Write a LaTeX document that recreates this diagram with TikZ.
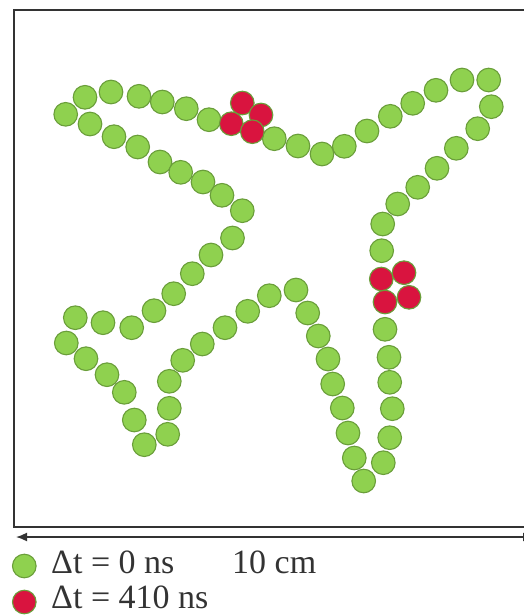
\documentclass[tikz,border=0pt]{standalone}
\usepackage{fontspec}
\setmainfont{Liberation Serif}
\usetikzlibrary{arrows.meta}
\definecolor{dotgreen}{HTML}{8FD14F}
\definecolor{dotedge}{HTML}{6A9E3A}
\definecolor{dotred}{HTML}{D9143F}
\definecolor{ink}{HTML}{333333}
\begin{document}
\begin{tikzpicture}[x=1pt,y=-1pt,
  gdot/.style={circle, draw=dotedge, fill=dotgreen, line width=1.1pt, minimum size=23.6pt, inner sep=0pt},
  rdot/.style={gdot, fill=dotred},
  lbl/.style={anchor=base west, inner sep=0pt, text=ink, font=\fontsize{34}{39}\selectfont},
  frame/.style={draw=ink, line width=2pt}]
\useasboundingbox (0,0) rectangle (524,616);
\begin{scope}
\clip (0,0) rectangle (524,616);
\draw[frame] (14,10) rectangle (540,527);
\coordinate (arrL) at (16,537);
\coordinate (arrR) at (534,537);
\draw[ink, line width=1.6pt, {Latex[length=11pt,width=9pt]}-{Latex[length=11pt,width=9pt]}] (arrL) -- (arrR);
% green dots
\foreach \x/\y [count=\i] in {
 65.7/114.3, 85/97.3, 111/92, 139/96.3, 162.3/102, 186.3/108.7, 209/119.7,
 274.3/138.7, 298/146, 322/154, 344.3/146.3, 367/131, 390.3/116.3, 412.7/103.3, 436/90.3, 462/80, 488.7/80,
 491.3/106.7, 477.7/128.7, 456.3/148.3, 437/168.3, 417.7/187.3, 397.7/204, 382.7/224, 381.7/250.7,
 385/329.3, 389/357.3, 389.7/382.3, 392.3/408.7, 389.7/437.7, 383.3/462.7, 363.7/481,
 269.3/295.7, 296/290, 307.7/313, 318.3/336, 328/359, 332.7/384, 342.3/408, 348/433, 354.3/458,
 90/124, 114/136.7, 137.7/147, 160/162, 180.7/172.3, 203/182, 222/195.3, 242.3/210.7, 232.5/238,
 211/255, 192.3/273.7, 173.7/293.7, 154/310.7, 131.7/327.7, 103/322.7, 75.3/317.7,
 66.3/343, 86/358.7, 107/374.7, 124.3/392.3, 134.3/420, 144.3/444.7,
 167.7/434.3, 169.3/408.3, 169.3/381.3, 182.7/360.3, 202.3/344, 225/327.7, 247.7/311.3}
 \node[gdot] (g\i) at (\x,\y) {};
% red dots
\foreach \x/\y [count=\i] in {
 231.3/123.7, 242.3/103, 261/115, 252.3/131.7,
 381.3/279, 404/272.7, 385/302, 409/297.3}
 \node[rdot] (r\i) at (\x,\y) {};
% legend
\node[gdot] (lg) at (24.3,566) {};
\node[rdot] (lr) at (24.3,602) {};
\node[lbl] (tg) at (51,573) {Δt = 0 ns};
\node[lbl] (tr) at (51,608) {Δt = 410 ns};
\node[lbl] (scale) at (232,573) {10 cm};
\end{scope}
\end{tikzpicture}
\end{document}
